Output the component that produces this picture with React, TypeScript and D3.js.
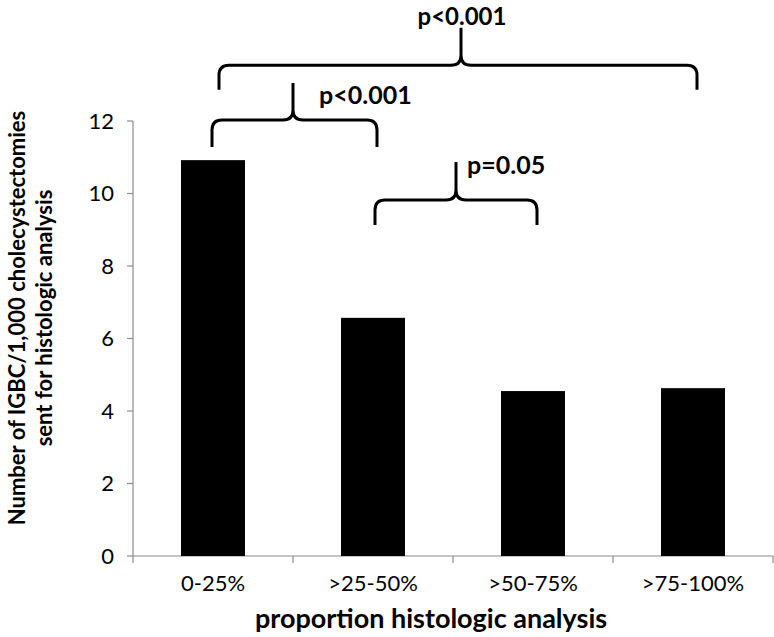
import React from "react";
import * as d3 from "d3";

const categories = ["0-25%", ">25-50%", ">50-75%", ">75-100%"];
const values = [10.92, 6.57, 4.55, 4.63];
const yTicks = [0, 2, 4, 6, 8, 10, 12];
const braceFrom = [0, 1, 0];
const braceTo = [1, 2, 3];
const braceLabels = ["p<0.001", "p=0.05", "p<0.001"];

const W = 774, H = 637;
const FONT = "Lato, 'Open Sans', sans-serif";

export default function App() {
  const x = d3.scaleBand<string>().domain(categories).range([133, 773]).paddingInner(0).paddingOuter(0);
  const y = d3.scaleLinear().domain([0, 12]).range([556, 121]);
  const bw = 64;
  const cx = (i: number) => (x(categories[i]) as number) + x.bandwidth() / 2;

  const braceGeo = [
    { yb: 11.28, yh: 12.03, yt: 13.05, dx0: -1, dx1: 4, peak: 293, lx: 319, ly: 104, fs: 25, anchor: "start" },
    { yb: 9.13, yh: 9.82, yt: 10.87, dx0: 2, dx1: 4, peak: 456, lx: 467, ly: 174, fs: 25, anchor: "start" },
    { yb: 12.86, yh: 13.54, yt: 14.57, dx0: 6, dx1: 4, peak: 461, lx: 462, ly: 25, fs: 24, anchor: "middle" },
  ];

  const bracePath = (x0: number, x1: number, xm: number, yb: number, yh: number, yt: number) => {
    const r = 10;
    return `M${x0},${yb} L${x0},${yh + r} Q${x0},${yh} ${x0 + r},${yh} L${xm - r},${yh} Q${xm},${yh} ${xm},${yh - r} L${xm},${yt} M${xm},${yh - r} Q${xm},${yh} ${xm + r},${yh} L${x1 - r},${yh} Q${x1},${yh} ${x1},${yh + r} L${x1},${yb}`;
  };

  return (
    <svg width={W} height={H} style={{ position: "absolute", left: 0, top: 0, background: "#fff" }}>
      <line x1={133} x2={133} y1={y(12)} y2={y(0)} stroke="#8c8c8c" strokeWidth={1.2} />
      {yTicks.map((t) => (
        <g key={t}>
          <line x1={127} x2={133} y1={y(t)} y2={y(t)} stroke="#8c8c8c" strokeWidth={1.2} />
          <text x={114} y={y(t)} dy="0.35em" textAnchor="end" fontFamily={FONT} fontSize={22} fill="#000">
            {t}
          </text>
        </g>
      ))}
      <line x1={133} x2={773} y1={y(0)} y2={y(0)} stroke="#8c8c8c" strokeWidth={1.2} />
      {[...categories.map((c) => x(c) as number), 773].map((v, i) => (
        <line key={i} x1={v} x2={v} y1={y(0)} y2={y(0) + 7} stroke="#8c8c8c" strokeWidth={1.2} />
      ))}
      {values.map((v, i) => (
        <rect key={i} x={cx(i) - bw / 2} y={y(v)} width={bw} height={y(0) - y(v)} fill="#000" />
      ))}
      {categories.map((c, i) => (
        <text key={c} x={cx(i)} y={591} textAnchor="middle" fontFamily={FONT} fontSize={22} fill="#000">
          {c}
        </text>
      ))}
      {braceGeo.map((g, i) => {
        const x0 = cx(braceFrom[i]) + g.dx0;
        const x1 = cx(braceTo[i]) + g.dx1;
        return (
          <g key={i}>
            <path d={bracePath(x0, x1, g.peak, y(g.yb), y(g.yh), y(g.yt))} fill="none" stroke="#000" strokeWidth={3} />
            <text x={g.lx} y={g.ly} textAnchor={g.anchor as any} fontFamily={FONT} fontWeight="bold" fontSize={g.fs} fill="#000">
              {braceLabels[i]}
            </text>
          </g>
        );
      })}
      <text x={431} y={628} textAnchor="middle" fontFamily={FONT} fontWeight="bold" fontSize={27} fill="#000">
        proportion histologic analysis
      </text>
      <g transform="translate(0,318) rotate(-90)">
        <text x={0} y={25} textAnchor="middle" fontFamily={FONT} fontWeight="bold" fontSize={22} fill="#000">
          Number of IGBC/1,000 cholecystectomies
        </text>
        <text x={0} y={52} textAnchor="middle" fontFamily={FONT} fontWeight="bold" fontSize={22} fill="#000">
          sent for histologic analysis
        </text>
      </g>
    </svg>
  );
}
